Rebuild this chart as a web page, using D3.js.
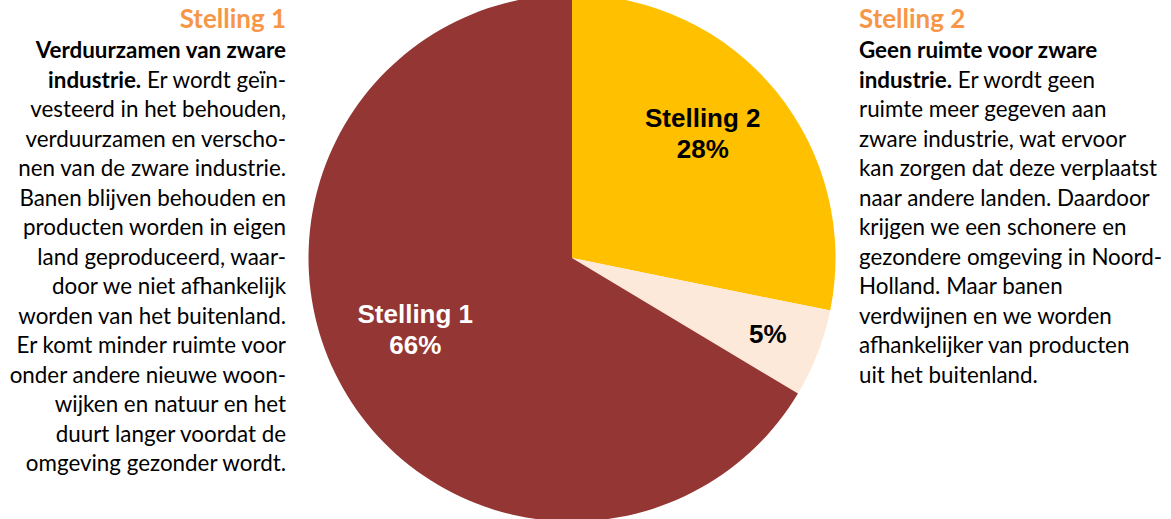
<!DOCTYPE html>
<html>
<head>
<meta charset="utf-8">
<script src="https://cdn.jsdelivr.net/npm/d3@7"></script>
<style>
  html, body { margin: 0; padding: 0; background: #ffffff; }
  svg { display: block; }
</style>
</head>
<body>
<svg id="chart" width="1171" height="519"></svg>
<script>
// ---- data ----
const categories = ["Stelling 2", "Geen mening", "Stelling 1"];
const values = [28.2, 5.4, 66.4];
const valueLabels = ["28%", "5%", "66%"];
const sliceNames = ["Stelling 2", "", "Stelling 1"];

const leftTitle = "Stelling 1";
const leftLines = [
  [["Verduurzamen van zware", true]],
  [["industrie.", true], [" Er wordt geïn-", false]],
  [["vesteerd in het behouden,", false]],
  [["verduurzamen en verscho-", false]],
  [["nen van de zware industrie.", false]],
  [["Banen blijven behouden en", false]],
  [["producten worden in eigen", false]],
  [["land geproduceerd, waar-", false]],
  [["door we niet afhankelijk", false]],
  [["worden van het buitenland.", false]],
  [["Er komt minder ruimte voor", false]],
  [["onder andere nieuwe woon-", false]],
  [["wijken en natuur en het", false]],
  [["duurt langer voordat de", false]],
  [["omgeving gezonder wordt.", false]]
];
const rightTitle = "Stelling 2";
const rightLines = [
  [["Geen ruimte voor zware", true]],
  [["industrie.", true], [" Er wordt geen", false]],
  [["ruimte meer gegeven aan", false]],
  [["zware industrie, wat ervoor", false]],
  [["kan zorgen dat deze verplaatst", false]],
  [["naar andere landen. Daardoor", false]],
  [["krijgen we een schonere en", false]],
  [["gezondere omgeving in Noord-", false]],
  [["Holland. Maar banen", false]],
  [["verdwijnen en we worden", false]],
  [["afhankelijker van producten", false]],
  [["uit het buitenland.", false]]
];

// ---- layout / style ----
const colors = ["#FFC000", "#FDE9D9", "#943634"];
const labelColors = ["#000000", "#000000", "#ffffff"];
const labelRadius = [181, 210, 172];
const labelAngleShift = [-4.5, 0, 5.2]; // degrees
const cx = 572, cy = 258, R = 263.5;
const textFont = "Lato, 'Open Sans', sans-serif";
const titleColor = "#F79646";

const svg = d3.select("#chart");
svg.append("rect").attr("width", 1171).attr("height", 519).attr("fill", "#fff");

// pie
const pie = d3.pie().sort(null).value(d => d)(values);
const arc = d3.arc().innerRadius(0).outerRadius(R);
const g = svg.append("g").attr("transform", `translate(${cx},${cy})`);
g.selectAll("path.slice").data(pie).join("path")
  .attr("class", "slice")
  .attr("d", arc)
  .attr("fill", (d, i) => colors[i]);

// pie labels
pie.forEach((d, i) => {
  const shift = labelAngleShift[i] * Math.PI / 180;
  const la = d3.arc().innerRadius(labelRadius[i]).outerRadius(labelRadius[i]);
  const [x, y] = la.centroid({startAngle: d.startAngle + shift, endAngle: d.endAngle + shift});
  const t = g.append("text")
    .attr("text-anchor", "middle")
    .attr("font-family", "'Liberation Sans', Arial, sans-serif")
    .attr("font-weight", "bold")
    .attr("font-size", 26)
    .attr("fill", labelColors[i]);
  if (sliceNames[i]) {
    t.append("tspan").attr("x", x).attr("y", y - 6.3).text(sliceNames[i]);
    t.append("tspan").attr("x", x).attr("y", y + 25.4).text(valueLabels[i]);
  } else {
    t.append("tspan").attr("x", x).attr("y", y + 9.3).text(valueLabels[i]);
  }
});

// fit text font size to reference width
const probe = svg.append("text").attr("font-family", textFont).attr("font-size", 24)
  .text("nen van de zware industrie.");
const w = probe.node().getComputedTextLength();
probe.remove();
const fs = 24 * 268 / w;

const firstBase = 28.3, bodyBase = 58.3, step = 29.5;

function block(x, anchor, title, lines) {
  svg.append("text")
    .attr("x", x).attr("y", firstBase)
    .attr("text-anchor", anchor)
    .attr("font-family", textFont).attr("font-weight", "bold")
    .attr("font-size", fs * 1.16).attr("fill", titleColor)
    .text(title);
  lines.forEach((parts, i) => {
    const t = svg.append("text")
      .attr("x", x).attr("y", bodyBase + i * step)
      .attr("text-anchor", anchor)
      .attr("font-family", textFont).attr("font-size", fs).attr("fill", "#000")
      .attr("xml:space", "preserve")
      .style("white-space", "pre");
    parts.forEach(([s, b]) => {
      t.append("tspan").attr("font-weight", b ? "bold" : "normal").text(s);
    });
  });
}
block(286, "end", leftTitle, leftLines);
block(859, "start", rightTitle, rightLines);
</script>
</body>
</html>
